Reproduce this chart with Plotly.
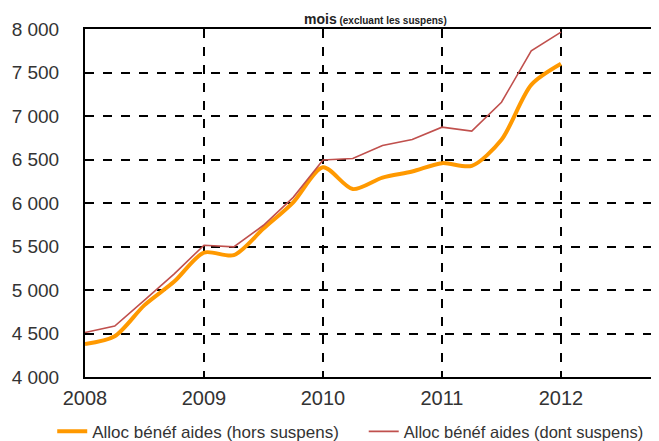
import plotly.graph_objects as go

quarters = [2008.0, 2008.25, 2008.5, 2008.75, 2009.0, 2009.25, 2009.5, 2009.75,
            2010.0, 2010.25, 2010.5, 2010.75, 2011.0, 2011.25, 2011.5, 2011.75, 2012.0]
hors_suspens = [4380, 4469, 4826, 5097, 5430, 5400, 5706, 6008,
                6410, 6160, 6292, 6362, 6458, 6427, 6727, 7358, 7600]
dont_suspens = [4512, 4585, 4884, 5186, 5515, 5496, 5744, 6065,
                6494, 6512, 6661, 6730, 6872, 6826, 7158, 7750, 7964]
series_names = ["Alloc bénéf aides (hors suspens)", "Alloc bénéf aides (dont suspens)"]
y_ticks = [4000, 4500, 5000, 5500, 6000, 6500, 7000, 7500, 8000]
y_tick_labels = ["4 000", "4 500", "5 000", "5 500", "6 000", "6 500", "7 000", "7 500", "8 000"]
x_ticks = [2008, 2009, 2010, 2011, 2012]
x_tick_labels = ["2008", "2009", "2010", "2011", "2012"]
title_main = "mois"
title_sub = " (excluant les suspens)"

FONT = "Liberation Sans, Arial, sans-serif"
TXT = "#333333"

fig = go.Figure()
fig.add_trace(go.Scatter(
    x=quarters, y=hors_suspens, name=series_names[0], mode="lines",
    line=dict(color="#FF9900", width=4, shape="spline", smoothing=0.8),
    legend="legend",
))
fig.add_trace(go.Scatter(
    x=quarters, y=dont_suspens, name=series_names[1], mode="lines",
    line=dict(color="#C0504D", width=1.6),
    legend="legend2",
))

leg_common = dict(orientation="h", xanchor="left", y=-0.157, yanchor="middle",
                  bgcolor="rgba(0,0,0,0)", tracegroupgap=0)

fig.update_layout(
    width=659, height=441,
    margin=dict(l=77, r=12, t=21, b=72, autoexpand=False),
    paper_bgcolor="white", plot_bgcolor="white",
    font=dict(family=FONT, color=TXT),
    showlegend=True,
    legend=dict(x=-0.0575, font=dict(size=17, family=FONT, color=TXT), **leg_common),
    legend2=dict(x=0.489, font=dict(size=16.5, family=FONT, color=TXT), **leg_common),
    xaxis=dict(
        range=[2008, 2012.79], tickvals=x_ticks, ticktext=x_tick_labels,
        showgrid=True, gridcolor="black", gridwidth=1.5, griddash="dash",
        showline=True, linecolor="black", linewidth=2, mirror=True,
        ticks="", tickfont=dict(size=20, family=FONT, color=TXT),
        zeroline=False, automargin=False, ticklabelstandoff=2,
    ),
    yaxis=dict(
        range=[4000, 8000], tickvals=y_ticks, ticktext=y_tick_labels,
        showgrid=True, gridcolor="black", gridwidth=1.5, griddash="dash",
        showline=True, linecolor="black", linewidth=2, mirror=True,
        ticks="inside", ticklen=4, tickcolor="black",
        tickfont=dict(size=19, family=FONT, color=TXT),
        zeroline=False, automargin=False, ticklabelstandoff=20,
    ),
    annotations=[dict(
        text="<b>" + title_main + "</b><b><span style='font-size:10px'>" + title_sub + "</span></b>",
        xref="paper", yref="paper", x=0.51, y=1.0, yshift=20, xanchor="center", yanchor="top",
        showarrow=False, font=dict(size=14, family=FONT, color="#222222"),
    )],
)

fig.write_html("out.html")
